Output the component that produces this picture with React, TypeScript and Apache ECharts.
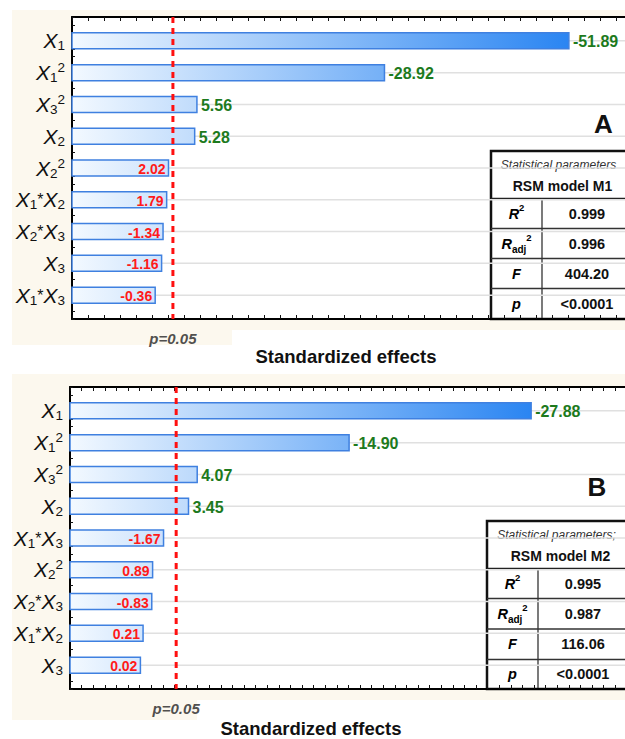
import React, { useEffect, useRef } from 'react';
import * as echarts from 'echarts';

// ---------- data ----------
const termsA = ['X1', 'X1^2', 'X3^2', 'X2', 'X2^2', 'X1*X2', 'X2*X3', 'X3', 'X1*X3'];
const effectsA = [-51.89, -28.92, 5.56, 5.28, 2.02, 1.79, -1.34, -1.16, -0.36];
const termsB = ['X1', 'X1^2', 'X3^2', 'X2', 'X1*X3', 'X2^2', 'X2*X3', 'X1*X2', 'X3'];
const effectsB = [-27.88, -14.9, 4.07, 3.45, -1.67, 0.89, -0.83, 0.21, 0.02];
const pCritical = 2.57;
const pLabel = 'p=0.05';
const axisTitle = 'Standardized effects';
const statLabels = ['R2', 'Radj2', 'F', 'p'];
const statsA = ['0.999', '0.996', '404.20', '<0.0001'];
const statsB = ['0.995', '0.987', '116.06', '<0.0001'];
const headerA = ['Statistical parameters', 'RSM model M1'];
const headerB = ['Statistical parameters;', 'RSM model M2'];
const panelLetters = ['A', 'B'];

const FONT = '"Liberation Sans", Arial, Helvetica, sans-serif';
const CREAM = '#fcf8ee';
const VIEW_RIGHT = 624;

function termRich(t: string) {
  let out = '';
  for (let i = 0; i < t.length; i++) {
    const c = t[i];
    if (c === 'X') out += '{x|X}';
    else if (c === '^') { out += '{sup|' + t[i + 1] + '}'; i++; }
    else if (c === '*') out += '{m|*}';
    else out += '{sub|' + c + '}';
  }
  return out;
}

const termRichStyles = {
  x: { fontSize: 21, fontStyle: 'italic', fontFamily: FONT, color: '#111', lineHeight: 24, verticalAlign: 'middle' },
  sub: { fontSize: 13.5, fontFamily: FONT, color: '#111', verticalAlign: 'bottom' },
  sup: { fontSize: 13.5, fontFamily: FONT, color: '#111', verticalAlign: 'top' },
  m: { fontSize: 16, fontFamily: FONT, color: '#111', verticalAlign: 'middle' },
};

function statRich(s: string) {
  if (s === 'R2') return '{ri|R}{sup|2}';
  if (s === 'Radj2') return '{ri|R}{sub|adj}{sup|2}';
  return '{ri|' + s + '}';
}
const statRichStyles = {
  ri: { fontSize: 14.5, fontStyle: 'italic', fontWeight: 'bold', fontFamily: FONT, color: '#111', lineHeight: 22, verticalAlign: 'middle' },
  sup: { fontSize: 9.5, fontWeight: 'bold', fontFamily: FONT, color: '#111', verticalAlign: 'top' },
  sub: { fontSize: 10, fontWeight: 'bold', fontFamily: FONT, color: '#111', verticalAlign: 'bottom' },
};

function makeRender(xMin: number, gradEnd: number) {
  return (params: any, api: any) => {
    const v = api.value(0) as number;
    const i = api.value(1) as number;
    const cs = params.coordSys;
    const abs = Math.abs(v);
    const p0 = api.coord([xMin, i]);
    const p1 = api.coord([abs, i]);
    const gx1 = api.coord([gradEnd, i])[0];
    const h = 16;
    const sig = abs > pCritical;
    return {
      type: 'group',
      children: [
        {
          type: 'line',
          shape: { x1: cs.x, y1: p0[1], x2: cs.x + cs.width, y2: p0[1] },
          style: { stroke: '#e0e0e0', lineWidth: 1.5 },
          z2: 0,
        },
        {
          type: 'rect',
          shape: { x: p0[0], y: p0[1] - h / 2, width: p1[0] - p0[0], height: h },
          style: {
            fill: new echarts.graphic.LinearGradient(cs.x, 0, gx1, 0, [
              { offset: 0, color: '#f3f9ff' },
              { offset: 1, color: '#2a85f2' },
            ], true),
            stroke: '#3f80e0',
            lineWidth: 1.5,
          },
          z2: 1,
        },
        {
          type: 'text',
          x: sig ? p1[0] + 4 : p1[0] - 3,
          y: p0[1] + 1,
          style: {
            text: v.toFixed(2),
            fill: sig ? '#1d7a1d' : '#ff1a1a',
            font: sig ? 'bold 16px ' + FONT : 'bold 14px ' + FONT,
            align: sig ? 'left' : 'right',
            textAlign: sig ? 'left' : 'right',
            verticalAlign: 'middle',
            textVerticalAlign: 'middle',
          },
          z2: 2,
        },
      ],
    };
  };
}

function tickAxes(gridIndex: number, max: number) {
  const base = {
    gridIndex,
    type: 'value',
    min: 0,
    max,
    interval: 1,
    axisLine: { show: true, onZero: false, lineStyle: { color: '#000', width: 2 } },
    axisTick: { show: true, inside: true, length: 4, lineStyle: { color: '#111', width: 1 } },
    axisLabel: { show: false },
    splitLine: { show: false },
  };
  return [
    { ...base, position: 'bottom' },
    { ...base, position: 'top' },
  ];
}

function yAxisFor(gridIndex: number, terms: string[]) {
  return {
    gridIndex,
    type: 'value',
    inverse: true,
    min: -0.75,
    max: 8.75,
    interval: 0.25,
    axisLine: { show: true, onZero: false, lineStyle: { color: '#000', width: 2 } },
    axisTick: { show: true, inside: true, length: 3, lineStyle: { color: '#111', width: 1 } },
    splitLine: { show: false },
    axisLabel: {
      margin: 7,
      formatter: (v: number) => {
        const r = Math.round(v);
        if (Math.abs(v - r) > 1e-6 || r < 0 || r >= terms.length) return '';
        return termRich(terms[r]);
      },
      rich: termRichStyles,
    },
  };
}

function table(
  left: number, top: number, right: number, headerLine: number,
  rowLines: number[], bottom: number, colX: number,
  header: string[], stats: string[]
) {
  const children: any[] = [];
  children.push({
    type: 'rect',
    shape: { x: left, y: top, width: right - left, height: bottom - top },
    style: { fill: '#fff', stroke: '#111', lineWidth: 2.5 },
  });
  children.push({
    type: 'line',
    shape: { x1: left, y1: headerLine, x2: right, y2: headerLine },
    style: { stroke: '#222', lineWidth: 1.6 },
  });
  rowLines.forEach((y) => {
    children.push({
      type: 'line',
      shape: { x1: left, y1: y, x2: right, y2: y },
      style: { stroke: '#333', lineWidth: 1.3 },
    });
  });
  children.push({
    type: 'line',
    shape: { x1: colX, y1: headerLine, x2: colX, y2: bottom },
    style: { stroke: '#333', lineWidth: 1.3 },
  });
  const cxVisible = (left + VIEW_RIGHT) / 2;
  children.push({
    type: 'text',
    x: cxVisible + 1,
    y: top + 14,
    style: {
      text: header[0], fill: '#333', font: 'italic 12px ' + FONT,
      align: 'center', textAlign: 'center', verticalAlign: 'middle', textVerticalAlign: 'middle',
    },
  });
  children.push({
    type: 'text',
    x: (left + right) / 2 - 1,
    y: top + 34.5,
    style: {
      text: header[1], fill: '#111', font: 'bold 14px ' + FONT,
      align: 'center', textAlign: 'center', verticalAlign: 'middle', textVerticalAlign: 'middle',
    },
  });
  const ys = [headerLine, ...rowLines, bottom];
  for (let k = 0; k < stats.length; k++) {
    const yc = (ys[k] + ys[k + 1]) / 2;
    children.push({
      type: 'text',
      x: (left + colX) / 2,
      y: yc,
      style: {
        text: statRich(statLabels[k]), rich: statRichStyles,
        align: 'center', textAlign: 'center', verticalAlign: 'middle', textVerticalAlign: 'middle',
      },
    });
    children.push({
      type: 'text',
      x: colX + 45,
      y: yc,
      style: {
        text: stats[k], fill: '#111', font: 'bold 14.5px ' + FONT,
        align: 'center', textAlign: 'center', verticalAlign: 'middle', textVerticalAlign: 'middle',
      },
    });
  }
  return { type: 'group', z: 50, children };
}

function centeredText(text: string, x: number, y: number, font: string, color: string) {
  return {
    type: 'text',
    z: 50,
    x,
    y,
    style: {
      text, fill: color, font,
      align: 'center', textAlign: 'center', verticalAlign: 'middle', textVerticalAlign: 'middle',
    },
  };
}

function pSeries(xIdx: number, yIdx: number) {
  return [
    {
      type: 'line',
      xAxisIndex: xIdx,
      yAxisIndex: yIdx,
      data: [[pCritical, -0.75], [pCritical, 8.75]],
      showSymbol: false,
      symbol: 'none',
      lineStyle: { color: '#ff1010', width: 3, type: [6, 5] },
      z: 5,
      silent: true,
    },
    {
      type: 'scatter',
      xAxisIndex: xIdx,
      yAxisIndex: yIdx,
      data: [[pCritical, 8.75]],
      symbolSize: 1,
      clip: false,
      itemStyle: { color: 'rgba(0,0,0,0)' },
      label: {
        show: true,
        position: 'bottom',
        distance: 11,
        formatter: pLabel,
        fontFamily: FONT,
        fontSize: 15,
        fontStyle: 'italic',
        fontWeight: 'bold',
        color: '#222',
      },
      z: 6,
      silent: true,
    },
  ];
}

export default function App() {
  const ref = useRef<HTMLDivElement>(null);
  useEffect(() => {
    if (!ref.current) return;
    const chart = echarts.init(ref.current, undefined, { renderer: 'svg' });
    const maxA = Math.max(...effectsA.map(Math.abs));
    const maxB = Math.max(...effectsB.map(Math.abs));
    const option: any = {
      animation: false,
      backgroundColor: '#ffffff',
      grid: [
        { left: 72, top: 17, width: 562, height: 302, show: true, backgroundColor: '#fff', borderWidth: 0 },
        { left: 70, top: 387, width: 561, height: 302, show: true, backgroundColor: '#fff', borderWidth: 0 },
      ],
      xAxis: [
        { gridIndex: 0, type: 'value', min: -10, max: 60, show: false },
        ...tickAxes(0, 562 / 16),
        { gridIndex: 1, type: 'value', min: -5, max: 35, show: false },
        ...tickAxes(1, 561 / 11.6),
      ],
      yAxis: [yAxisFor(0, termsA), yAxisFor(1, termsB)],
      graphic: [
        { type: 'rect', z: -10, shape: { x: 12, y: 10, width: 613, height: 320 }, style: { fill: CREAM } },
        { type: 'rect', z: -10, shape: { x: 12, y: 329, width: 220, height: 16 }, style: { fill: CREAM } },
        { type: 'rect', z: -10, shape: { x: 12, y: 374, width: 613, height: 326 }, style: { fill: CREAM } },
        { type: 'rect', z: -10, shape: { x: 12, y: 699, width: 185, height: 21 }, style: { fill: CREAM } },
        table(491, 151, 636, 198.5, [228.5, 258.5, 288.5], 319, 542, headerA, statsA),
        table(487, 521, 636, 568.5, [598.5, 629, 659.5], 689, 538, headerB, statsB),
        centeredText(panelLetters[0], 603.5, 124, 'bold 26px ' + FONT, '#111'),
        centeredText(panelLetters[1], 597, 487, 'bold 26px ' + FONT, '#111'),
        centeredText(axisTitle, 346, 356, 'bold 18.5px ' + FONT, '#111'),
        centeredText(axisTitle, 311, 728, 'bold 18.5px ' + FONT, '#111'),
      ],
      series: [
        {
          type: 'custom',
          xAxisIndex: 0,
          yAxisIndex: 0,
          data: effectsA.map((v, i) => [v, i]),
          encode: { x: 0, y: 1 },
          renderItem: makeRender(-10, maxA),
          clip: false,
          z: 3,
        },
        ...pSeries(0, 0),
        {
          type: 'custom',
          xAxisIndex: 3,
          yAxisIndex: 1,
          data: effectsB.map((v, i) => [v, i]),
          encode: { x: 0, y: 1 },
          renderItem: makeRender(-5, maxB),
          clip: false,
          z: 3,
        },
        ...pSeries(3, 1),
      ],
    };
    chart.setOption(option);
    return () => chart.dispose();
  }, []);
  return (
    <div style={{ position: 'fixed', left: 0, top: 0, width: 625, height: 739, overflow: 'hidden', background: '#fff' }}>
      <div ref={ref} style={{ width: 640, height: 739 }} />
    </div>
  );
}
